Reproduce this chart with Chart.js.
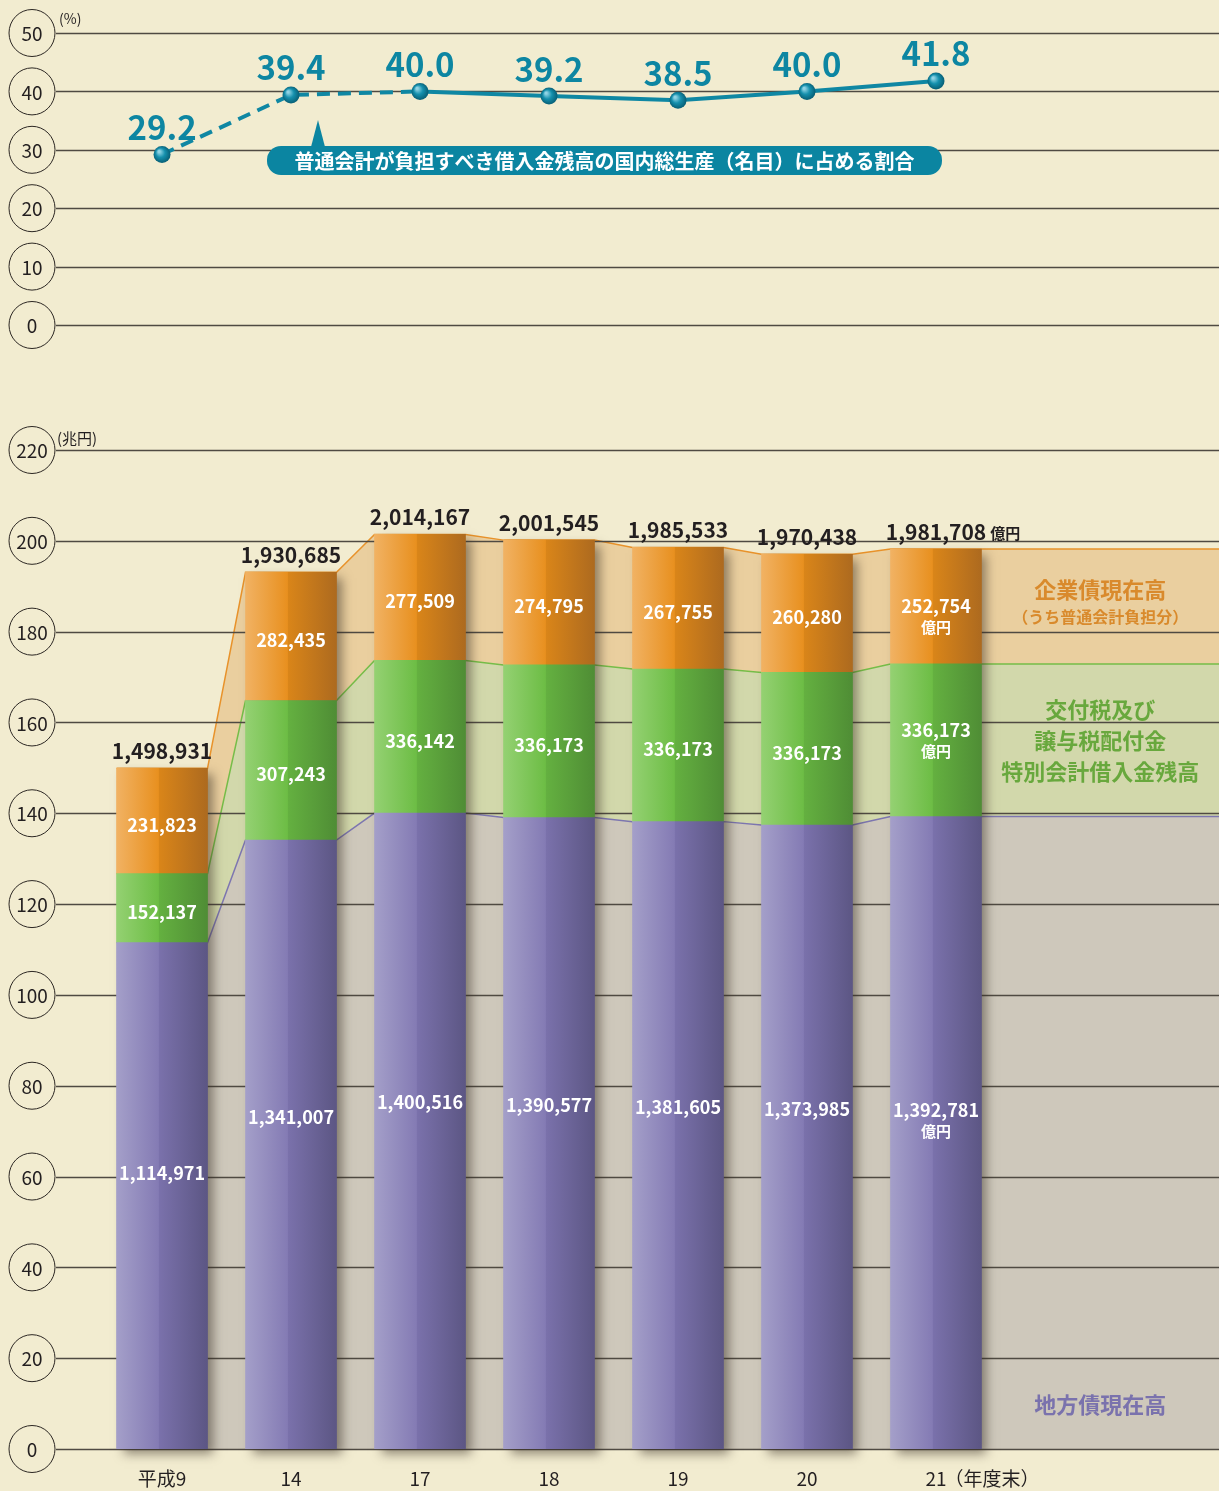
<!DOCTYPE html>
<html lang="ja">
<head>
<meta charset="utf-8">
<title>地方債現在高等の推移</title>
<script src="https://cdn.jsdelivr.net/npm/chart.js@4.4.0/dist/chart.umd.min.js"></script>
<style>
  html, body { margin: 0; padding: 0; background: #f2ecd0; }
  #wrap { position: relative; width: 1219px; height: 1491px; overflow: hidden; }
  #ratioChart { position: absolute; left: 0; top: 0; }
  #debtChart { position: absolute; left: 0; top: 380px; }
</style>
</head>
<body>
<div id="wrap">
  <canvas id="ratioChart" width="1219" height="380"></canvas>
  <canvas id="debtChart" width="1219" height="1111"></canvas>
</div>
<script>
"use strict"

// categories (年度末)
const years = ['平成9', '14', '17', '18', '19', '20', '21'];
const lastSuffix = '（年度末）';

// 普通会計が負担すべき借入金残高の国内総生産（名目）に占める割合 (%)
const gdpRatio = [29.2, 39.4, 40.0, 39.2, 38.5, 40.0, 41.8];

// 億円
const localBonds = [1114971, 1341007, 1400516, 1390577, 1381605, 1373985, 1392781];
const specialAccount = [152137, 307243, 336142, 336173, 336173, 336173, 336173];
const enterpriseBonds = [231823, 282435, 277509, 274795, 267755, 260280, 252754];

// tick labels
const ratioTicks = [0, 10, 20, 30, 40, 50];
const debtTicks = [0, 20, 40, 60, 80, 100, 120, 140, 160, 180, 200, 220];

const FONT = '"Noto Sans CJK JP", "Noto Sans", sans-serif';
const INK = '#231f20';
const TEAL = '#0d86a2';
const X_MIN = -0.822;
const X_MAX = 8.194;
const BAR_PX = 91;
const HALF = 45.5 / 129;

const toCho = v => v / 10000;
const fmt = v => v.toLocaleString('en-US');

const midTop = localBonds.map((v, i) => v + specialAccount[i]);
const totals = midTop.map((v, i) => v + enterpriseBonds[i]);

// band outline: flat across each bar, then slanted to the next one
const bandPoints = (levels) => {
  const pts = [];
  levels.forEach((v, i) => {
    pts.push({ x: i - HALF, y: toCho(v) }, { x: i + HALF, y: toCho(v) });
  });
  pts.push({ x: X_MAX, y: toCho(levels[levels.length - 1]) });
  return pts;
};

const barFill = (stops) => (c) => {
  const chart = c.chart;
  if (c.type !== 'data' || !chart.chartArea) return stops[1];
  const x = chart.scales.x.getPixelForValue(c.dataIndex);
  const g = chart.ctx.createLinearGradient(x - BAR_PX / 2, 0, x + BAR_PX / 2, 0);
  g.addColorStop(0, stops[0]);
  g.addColorStop(0.46, stops[1]);
  g.addColorStop(0.47, stops[2]);
  g.addColorStop(1, stops[3]);
  return g;
};

const drawGrid = (chart, ticks) => {
  const { ctx, chartArea } = chart;
  const y = chart.scales.y;
  ctx.save();
  ctx.strokeStyle = '#4f4a42';
  ctx.lineWidth = 1.4;
  ticks.forEach(t => {
    const py = Math.round(y.getPixelForValue(t)) + 0.5;
    ctx.beginPath();
    ctx.moveTo(chartArea.left, py);
    ctx.lineTo(chartArea.right, py);
    ctx.stroke();
  });
  ctx.restore();
};

const drawCircleTicks = (chart, ticks) => {
  const { ctx, chartArea } = chart;
  const y = chart.scales.y;
  const cx = chartArea.left - 24;
  ctx.save();
  ctx.strokeStyle = '#2b2622';
  ctx.lineWidth = 1;
  ctx.font = `19px ${FONT}`;
  ctx.textAlign = 'center';
  ctx.textBaseline = 'middle';
  ticks.forEach(t => {
    const py = y.getPixelForValue(t);
    ctx.beginPath();
    ctx.ellipse(cx, py, 23, 23.5, 0, 0, Math.PI * 2);
    ctx.fillStyle = '#f2ecd0';
    ctx.fill();
    ctx.stroke();
    ctx.fillStyle = INK;
    ctx.fillText(String(t), cx, py + 1);
  });
  ctx.restore();
};

// ---------- top: ratio line ----------
const ratioDecor = {
  id: 'ratioDecor',
  beforeDatasetsDraw(chart) {
    drawGrid(chart, ratioTicks);
  },
  afterDraw(chart) {
    const { ctx, chartArea } = chart;
    drawCircleTicks(chart, ratioTicks);

    ctx.save();
    ctx.fillStyle = INK;
    ctx.font = `14px ${FONT}`;
    ctx.textAlign = 'left';
    ctx.textBaseline = 'middle';
    ctx.fillText('(%)', chartArea.left + 3, chartArea.top - 14);

    // value labels
    const meta = chart.getDatasetMeta(0);
    ctx.fillStyle = TEAL;
    ctx.font = `bold 33px ${FONT}`;
    ctx.textAlign = 'center';
    meta.data.forEach((pt, i) => {
      ctx.fillText(gdpRatio[i].toFixed(1), pt.x, pt.y - 27);
    });

    // callout
    const bx = 267, by = 146, bw = 675, bh = 29;
    ctx.fillStyle = '#0b85a1';
    ctx.beginPath();
    ctx.moveTo(311, by + 1);
    ctx.lineTo(318, 120);
    ctx.lineTo(325, by + 1);
    ctx.closePath();
    ctx.fill();
    ctx.beginPath();
    ctx.roundRect(bx, by, bw, bh, 14);
    ctx.fill();
    ctx.fillStyle = '#ffffff';
    ctx.font = `bold 20px ${FONT}`;
    ctx.fillText('普通会計が負担すべき借入金残高の国内総生産（名目）に占める割合', bx + bw / 2, by + bh / 2 + 1);
    ctx.restore();
  }
};

const pointBall = (c) => {
  const chart = c.chart;
  if (c.type !== 'data' || !chart.chartArea) return TEAL;
  const x = chart.scales.x.getPixelForValue(c.parsed.x);
  const y = chart.scales.y.getPixelForValue(c.parsed.y);
  const g = chart.ctx.createRadialGradient(x - 3, y - 3, 1, x, y, 9);
  g.addColorStop(0, '#8fd3e4');
  g.addColorStop(0.45, '#1590ad');
  g.addColorStop(1, '#065a70');
  return g;
};

new Chart(document.getElementById('ratioChart'), {
  type: 'line',
  data: {
    datasets: [{
      label: '割合',
      data: gdpRatio.map((v, i) => ({ x: i, y: v })),
      borderColor: '#0f87a3',
      borderWidth: 4,
      pointRadius: 8.5,
      pointBorderWidth: 0,
      pointBackgroundColor: pointBall,
      tension: 0,
      segment: {
        borderDash: c => c.p0DataIndex < 2 ? [13, 8] : []
      }
    }]
  },
  options: {
    responsive: false,
    animation: false,
    layout: { autoPadding: false, padding: { left: 56, right: 0, top: 33, bottom: 55 } },
    plugins: { legend: { display: false }, tooltip: { enabled: false } },
    scales: {
      x: { type: 'linear', min: X_MIN, max: X_MAX, display: false },
      y: { min: 0, max: 50, display: false }
    }
  },
  plugins: [ratioDecor]
});

// ---------- bottom: stacked debt bars ----------
const debtDecor = {
  id: 'debtDecor',
  beforeDatasetsDraw(chart) {
    chart.$barsReady = false;
  },
  beforeDatasetDraw(chart, args) {
    if (args.meta.type !== 'bar' || chart.$barsReady) return;
    chart.$barsReady = true;
    drawGrid(chart, debtTicks);
    // one soft shadow per whole stack
    const { ctx } = chart;
    const xs = chart.scales.x, ys = chart.scales.y;
    ctx.save();
    ctx.shadowColor = 'rgba(50, 40, 30, 0.5)';
    ctx.shadowBlur = 10;
    ctx.shadowOffsetX = 6;
    ctx.shadowOffsetY = 5;
    ctx.fillStyle = '#6d668f';
    totals.forEach((t, i) => {
      const x = xs.getPixelForValue(i);
      const top = ys.getPixelForValue(toCho(t));
      const bottom = ys.getPixelForValue(0);
      ctx.fillRect(x - BAR_PX / 2 + 1, top + 1, BAR_PX - 2, bottom - top - 1);
    });
    ctx.restore();
  },
  afterDraw(chart) {
    const { ctx, chartArea } = chart;
    const xs = chart.scales.x, ys = chart.scales.y;
    drawCircleTicks(chart, debtTicks);

    ctx.save();
    ctx.fillStyle = INK;
    ctx.font = `15px ${FONT}`;
    ctx.textAlign = 'left';
    ctx.textBaseline = 'middle';
    ctx.fillText('(兆円)', chartArea.left + 1, chartArea.top - 12);

    const last = years.length - 1;
    years.forEach((yr, i) => {
      const x = xs.getPixelForValue(i);
      const pBot = ys.getPixelForValue(toCho(localBonds[i]));
      const pMid = ys.getPixelForValue(toCho(midTop[i]));
      const pTop = ys.getPixelForValue(toCho(totals[i]));

      // totals above bar
      ctx.fillStyle = INK;
      ctx.font = `bold 21px ${FONT}`;
      ctx.textAlign = 'center';
      ctx.fillText(fmt(totals[i]), x, pTop - 17);
      if (i === last) {
        const w = ctx.measureText(fmt(totals[i])).width;
        ctx.font = `bold 15px ${FONT}`;
        ctx.textAlign = 'left';
        ctx.fillText('億円', x + w / 2 + 4, pTop - 16);
      }

      // segment values
      ctx.fillStyle = '#ffffff';
      ctx.textAlign = 'center';
      const seg = (val, cy, dy) => {
        ctx.font = `bold 18px ${FONT}`;
        if (i === last) {
          ctx.fillText(fmt(val), x, cy - 10 + dy);
          ctx.font = `bold 15px ${FONT}`;
          ctx.fillText('億円', x, cy + 11 + dy);
        } else {
          ctx.fillText(fmt(val), x, cy + 4);
        }
      };
      seg(enterpriseBonds[i], (pMid + pTop) / 2, 10);
      seg(specialAccount[i], (pBot + pMid) / 2, 0);
      seg(localBonds[i], ys.getPixelForValue(toCho(localBonds[i]) * 0.545) - 4, 20);

      // category labels
      ctx.fillStyle = INK;
      ctx.font = `19px ${FONT}`;
      const ly = ys.getPixelForValue(0) + 30;
      ctx.textAlign = 'center';
      ctx.fillText(yr, x, ly);
      if (i === last) {
        const w = ctx.measureText(yr).width;
        ctx.textAlign = 'left';
        ctx.fillText(lastSuffix, x + w / 2 - 2, ly);
      }
    });

    // series names in the bands right of the last bar
    const lx = (xs.getPixelForValue(last) + BAR_PX / 2 + chartArea.right) / 2;
    const oMid = ys.getPixelForValue(toCho((midTop[last] + totals[last]) / 2));
    const gMid = ys.getPixelForValue(toCho((localBonds[last] + midTop[last]) / 2));
    ctx.textAlign = 'center';
    ctx.fillStyle = '#d98a2c';
    ctx.font = `bold 22px ${FONT}`;
    ctx.fillText('企業債現在高', lx, oMid - 17);
    ctx.font = `bold 16px ${FONT}`;
    ctx.fillText('（うち普通会計負担分）', lx, oMid + 10);
    ctx.fillStyle = '#68a83d';
    ctx.font = `bold 22px ${FONT}`;
    ctx.fillText('交付税及び', lx, gMid - 31);
    ctx.fillText('譲与税配付金', lx, gMid);
    ctx.fillText('特別会計借入金残高', lx, gMid + 31);
    ctx.fillStyle = '#7a72ad';
    ctx.fillText('地方債現在高', lx, ys.getPixelForValue(0) - 44);
    ctx.restore();
  }
};

const bandLine = (label, levels, color, border, fill) => ({
  type: 'line',
  label,
  data: bandPoints(levels),
  borderColor: border,
  borderWidth: 1.5,
  backgroundColor: color,
  fill,
  pointRadius: 0,
  tension: 0,
  order: 2
});

const barSet = (label, lows, highs, stops) => ({
  type: 'bar',
  label,
  data: highs.map((v, i) => ({ x: i, y: [toCho(lows[i]), toCho(v)] })),
  backgroundColor: barFill(stops),
  borderWidth: 0,
  barThickness: BAR_PX,
  grouped: false,
  order: 1
});

new Chart(document.getElementById('debtChart'), {
  type: 'bar',
  data: {
    datasets: [
      bandLine('地方債現在高', localBonds, '#cec8bb', '#7d76b0', 'origin'),
      bandLine('交付税及び譲与税配付金特別会計借入金残高', midTop, '#d2d8ab', '#76bd48', '-1'),
      bandLine('企業債現在高', totals, '#eacf9f', '#e8922a', '-1'),
      barSet('地方債現在高', localBonds.map(() => 0), localBonds, ['#a49fc9', '#847bb4', '#7a71ab', '#5c5684']),
      barSet('交付税及び譲与税配付金特別会計借入金残高', localBonds, midTop, ['#94d172', '#6dbd45', '#64b040', '#4f8d35']),
      barSet('企業債現在高', midTop, totals, ['#f1b263', '#e8901f', '#d98519', '#ad6a1f'])
    ]
  },
  options: {
    responsive: false,
    animation: false,
    layout: { autoPadding: false, padding: { left: 56, right: 0, top: 70, bottom: 42 } },
    plugins: { legend: { display: false }, tooltip: { enabled: false } },
    scales: {
      x: { type: 'linear', min: X_MIN, max: X_MAX, offset: false, display: false },
      y: { min: 0, max: 220, display: false }
    }
  },
  plugins: [debtDecor]
});
</script>
</body>
</html>
